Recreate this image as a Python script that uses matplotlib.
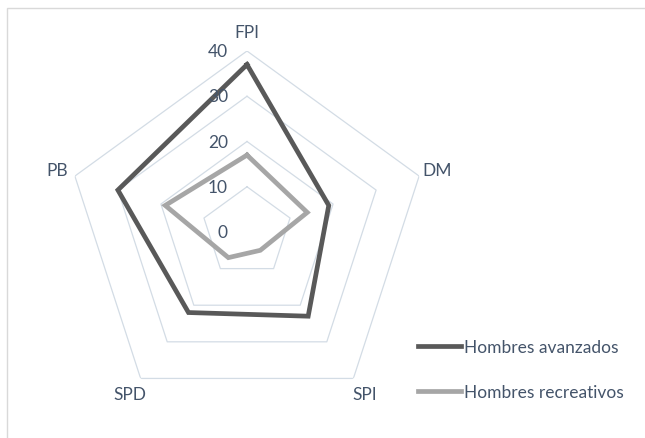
import numpy as np
import matplotlib
matplotlib.use("Agg")
import matplotlib.pyplot as plt
from matplotlib.patches import Rectangle

categories = ["FPI", "DM", "SPI", "SPD", "PB"]
avanzados = [37, 19, 23, 22, 30]
recreativos = [17, 14, 5, 7, 19]
series_names = ["Hombres avanzados", "Hombres recreativos"]
tick_values = [0, 10, 20, 30, 40]

plt.rcParams['font.family'] = ['Lato', 'DejaVu Sans']
TXT = '#44546A'
GRID = '#D3DCE5'

W, H = 645, 439
fig = plt.figure(figsize=(W / 100, H / 100), dpi=100)
fig.patch.set_facecolor('white')

# chart border
fig.add_artist(Rectangle((7 / W, -0.1), 1.2, 1 - 9 / H + 0.1, transform=fig.transFigure,
                         fill=False, edgecolor='#D9D9D9', linewidth=1.0))

cx, cy, R = 247, 233, 181
ax = fig.add_axes([(cx - R) / W, (H - cy - R) / H, 2 * R / W, 2 * R / H], projection='polar')
ax.set_theta_zero_location('N')
ax.set_theta_direction(-1)
ax.set_ylim(0, 40)
ax.grid(False)
ax.spines['polar'].set_visible(False)
ax.set_xticks([])
ax.set_yticks([])
ax.patch.set_alpha(0)

n = len(categories)
theta = np.arange(n) * 2 * np.pi / n
theta_c = np.append(theta, theta[0])

# pentagon grid
for v in tick_values[1:]:
    ax.plot(theta_c, [v] * (n + 1), color=GRID, linewidth=0.9, zorder=1)

def closed(vals):
    return list(vals) + [vals[0]]

ax.plot(theta_c, closed(avanzados), color='#595959', linewidth=3.4,
        solid_joinstyle='miter', label=series_names[0], zorder=3)
ax.plot(theta_c, closed(recreativos), color='#A6A6A6', linewidth=3.4,
        solid_joinstyle='miter', label=series_names[1], zorder=3)

# category labels
for t, c in zip(theta, categories):
    ax.text(t, 44.2, c, ha='center', va='center', fontsize=12.5, color=TXT)

# radial tick labels
for v in tick_values:
    ax.annotate(str(v), xy=(0, v), xytext=(-19, 0), textcoords='offset pixels',
                ha='right', va='center', fontsize=12.5, color=TXT)

fig.legend(loc='center left', bbox_to_anchor=(418 / W, 1 - 370.5 / H),
           frameon=False, fontsize=12.5, handlelength=2.5, handletextpad=0.15,
           labelspacing=1.65, borderpad=0, borderaxespad=0, labelcolor=TXT)

fig.savefig('out.png', dpi=100)
